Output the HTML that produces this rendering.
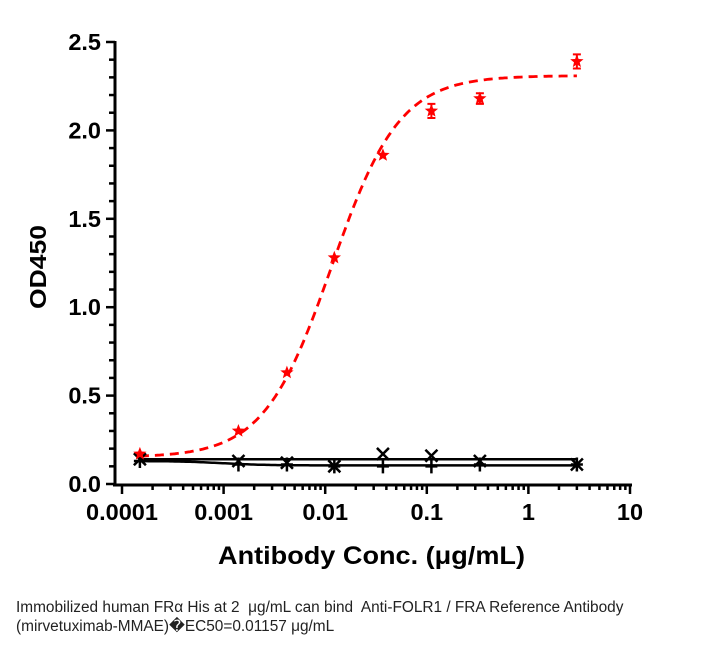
<!DOCTYPE html>
<html><head><meta charset="utf-8"><style>
body{margin:0;background:#fff;width:716px;height:645px;overflow:hidden;font-family:"Liberation Sans",sans-serif}
.cap{position:absolute;left:16px;top:598px;font-size:15.4px;line-height:19px;color:#222;font-family:"Liberation Sans","Noto Sans CJK SC",sans-serif;white-space:nowrap}
</style></head><body>
<svg id="chart" width="716" height="645" style="position:absolute;left:0;top:0"></svg>
<div class="cap">Immobilized human FRα His at 2&nbsp; μg/mL can bind&nbsp; Anti-FOLR1 / FRA Reference Antibody<br>(mirvetuximab-MMAE)&#xFFFD;EC50=0.01157 μg/mL</div>
<script>
const conc=[0.00015,0.0014,0.0042,0.0123,0.037,0.111,0.333,3];
const redVals=[0.17,0.30,0.63,1.28,1.86,2.11,2.18,2.39];
const redErr=[0,0,0,0,0,0.04,0.03,0.04];
const xVals=[0.14,0.13,0.12,0.10,0.17,0.16,0.13,0.11];
const plusVals=[0.13,0.11,0.11,0.10,0.10,0.10,0.11,0.11];
const redFit=[0.15,2.31,0.01157,1.3];
const xFit=[0.14,0.14,0.001,1];
const plusFit=[0.13,0.105,0.001,2];
const yTicks=[0,0.5,1.0,1.5,2.0,2.5];
const xTicks=[0.0001,0.001,0.01,0.1,1,10];
const xTickLabels=["0.0001","0.001","0.01","0.1","1","10"];
const NS="http://www.w3.org/2000/svg";
const svg=document.getElementById('chart');
const X=v=>122+101.6*(Math.log10(v)+4);
const Y=v=>484-176.8*v;
function el(t,a,p){const e=document.createElementNS(NS,t);for(const k in a)e.setAttribute(k,a[k]);(p||svg).appendChild(e);return e;}
const ax=el('g',{});
el('line',{x1:115,y1:Y(2.5)-1,x2:115,y2:486,stroke:'#000','stroke-width':3},ax);
el('line',{x1:113,y1:485,x2:X(10)+2,y2:485,stroke:'#000','stroke-width':3},ax);
for(let v=0;v<=25;v++){const y=Y(v/10);const maj=v%5==0;el('line',{x1:maj?106:109,y1:y,x2:115,y2:y,stroke:'#000','stroke-width':2.5},ax);}
yTicks.forEach(v=>{const t=el('text',{x:101,y:Y(v)+8,'text-anchor':'end','font-size':23.5,'font-weight':'bold'},ax);t.textContent=v.toFixed(1);});
for(let d=-4;d<1;d++)for(let m=1;m<10;m++){const x=X(m*Math.pow(10,d));el('line',{x1:x,y1:485,x2:x,y2:m==1?494:490,stroke:'#000','stroke-width':2.5},ax);}
el('line',{x1:X(10),y1:485,x2:X(10),y2:494,stroke:'#000','stroke-width':2.5},ax);
xTicks.forEach((v,i)=>{const t=el('text',{x:X(v),y:520,'text-anchor':'middle','font-size':23.5,'font-weight':'bold'},ax);t.textContent=xTickLabels[i];});
const xt=el('text',{x:218,y:564,'font-size':25,'font-weight':'bold',textLength:307,lengthAdjust:'spacingAndGlyphs'});xt.textContent='Antibody Conc. (μg/mL)';

const yt=el('text',{x:0,y:0,transform:'translate(46,267) rotate(-90)','text-anchor':'middle','font-size':23,'font-weight':'bold',textLength:84,lengthAdjust:'spacingAndGlyphs'});yt.textContent='OD450';

function fit(p,x){return p[0]+(p[1]-p[0])/(1+Math.pow(p[2]/x,p[3]));}
function curve(p,x0,x1,style,name){let d='';for(let i=0;i<=200;i++){const lx=Math.log10(x0)+(Math.log10(x1)-Math.log10(x0))*i/200;const x=Math.pow(10,lx);d+=(i?'L':'M')+X(x).toFixed(1)+','+Y(fit(p,x)).toFixed(1);}
const e=el('path',Object.assign({d:d,fill:'none'},style));}
curve(xFit,conc[0],conc[7],{stroke:'#000','stroke-width':2.5},'x-series-fit');
curve(plusFit,conc[0],conc[7],{stroke:'#000','stroke-width':2.5},'plus-series-fit');
curve(redFit,conc[0],conc[7],{stroke:'#f00','stroke-width':2.8,'stroke-dasharray':'9,6'},'red-series-fit');
conc.forEach((c,i)=>{const x=X(c);
 let y=Y(xVals[i]);const g=el('path',{d:`M${x-6},${y-6}L${x+6},${y+6}M${x-6},${y+6}L${x+6},${y-6}`,stroke:'#000','stroke-width':2.5});
 
 y=Y(plusVals[i]);const p=el('path',{d:`M${x},${y-7}L${x},${y+7}M${x-6},${y}L${x+6},${y}`,stroke:'#000','stroke-width':2.5});
 
 y=Y(redVals[i]);
 if(redErr[i]>0){const e1=Y(redVals[i]+redErr[i]),e2=Y(redVals[i]-redErr[i]);const eb=el('path',{d:`M${x},${e1}L${x},${e2}M${x-4},${e1}L${x+4},${e1}M${x-4},${e2}L${x+4},${e2}`,stroke:'#f00','stroke-width':2});}
 let d='';for(let k=0;k<10;k++){const r=k%2?3:7;const a=-Math.PI/2+k*Math.PI/5;d+=(k?'L':'M')+(x+r*Math.cos(a)).toFixed(1)+','+(y+r*Math.sin(a)).toFixed(1);}
 const s=el('path',{d:d+'Z',fill:'#f00'});
});
</script>
</body></html>
